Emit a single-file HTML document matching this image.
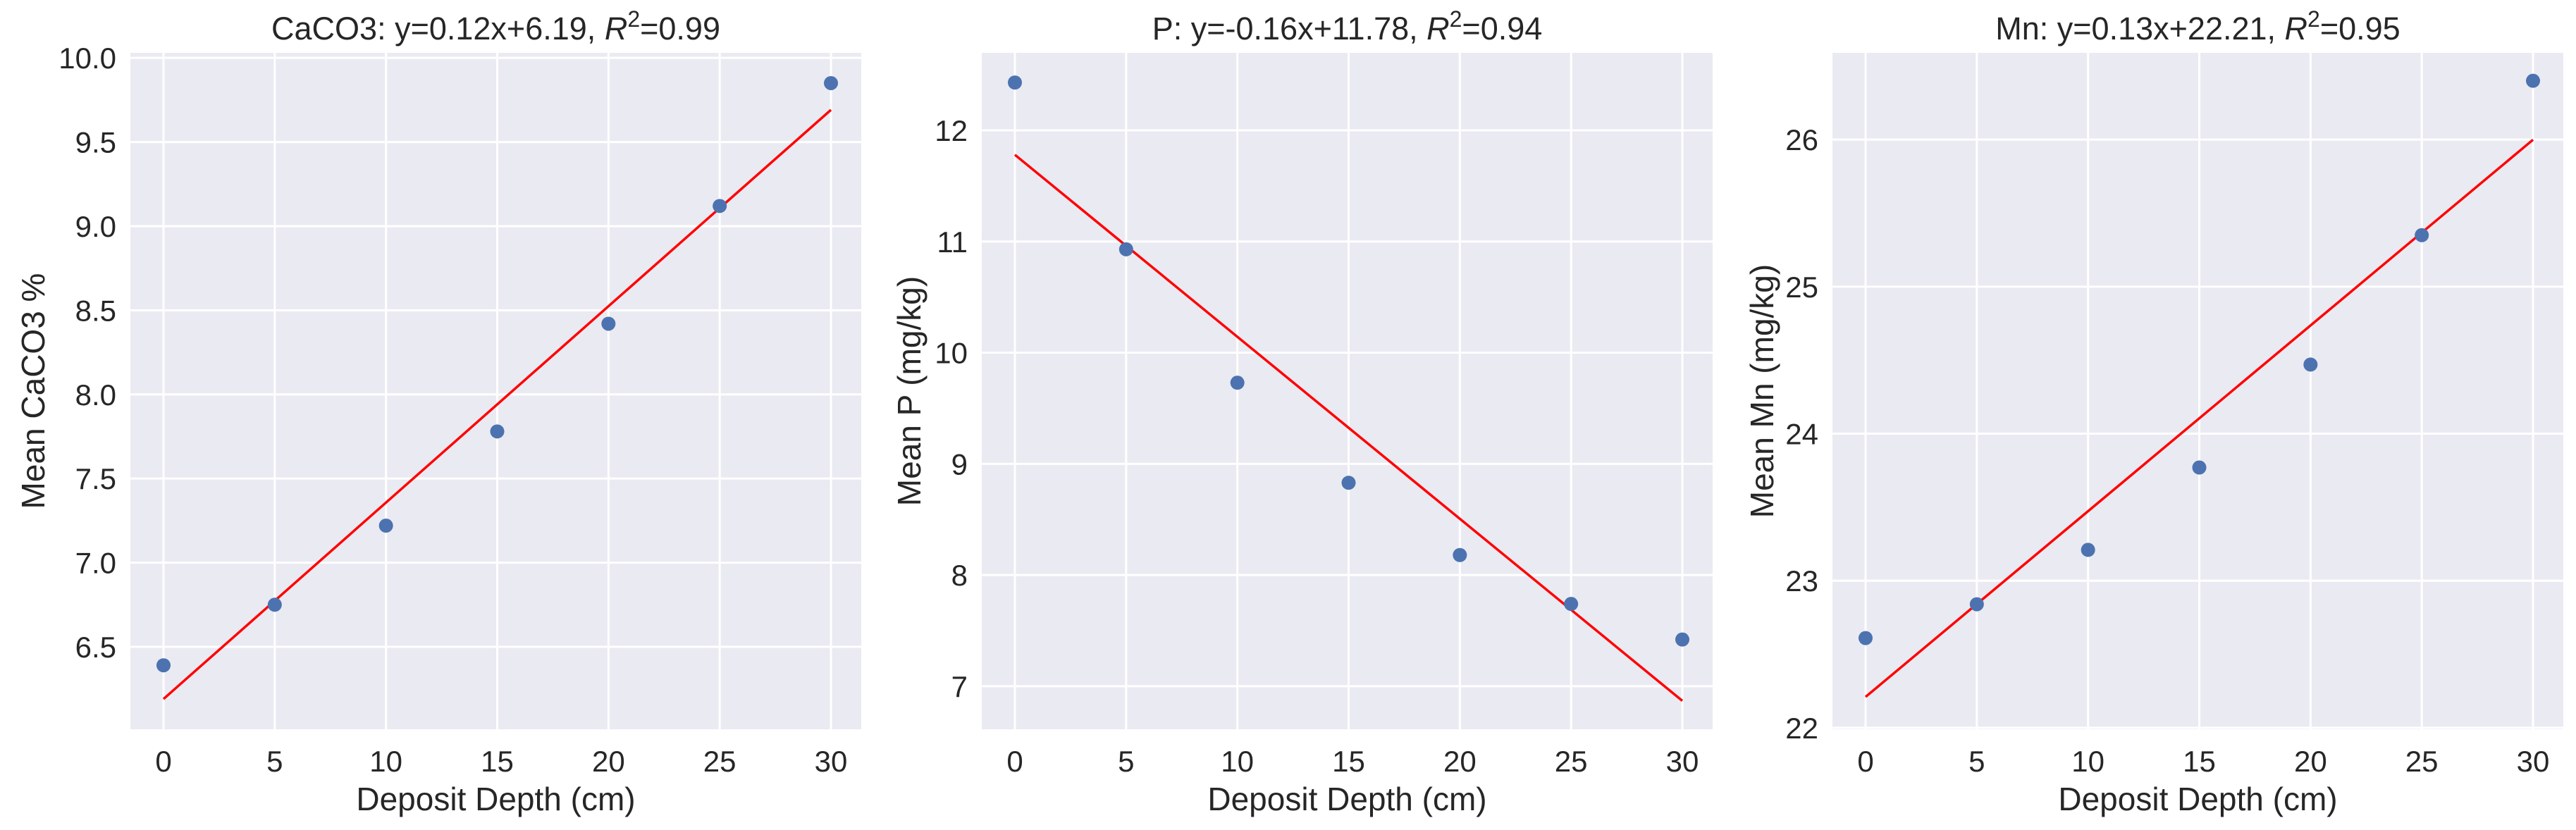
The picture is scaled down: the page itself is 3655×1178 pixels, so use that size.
<!DOCTYPE html>
<html><head><meta charset="utf-8"><style>
html,body{margin:0;padding:0;background:#fff;}
svg{display:block;font-family:"Liberation Sans",Arial,sans-serif;}
</style></head><body>
<svg id="fig" width="3655" height="1178" viewBox="0 0 3655 1178"></svg>
<script>
const depths = [0, 5, 10, 15, 20, 25, 30];
const xTicks = [0, 5, 10, 15, 20, 25, 30];
const caco3Values = [6.39, 6.75, 7.22, 7.78, 8.42, 9.12, 9.85];
const caco3Fit = [6.19, 0.1167];
const caco3Ticks = [6.5, 7.0, 7.5, 8.0, 8.5, 9.0, 9.5, 10.0];
const pValues = [12.43, 10.93, 9.73, 8.83, 8.18, 7.74, 7.42];
const pFit = [11.78, -0.1637];
const pTicks = [7, 8, 9, 10, 11, 12];
const mnValues = [22.61, 22.84, 23.21, 23.77, 24.47, 25.35, 26.40];
const mnFit = [22.21, 0.1263];
const mnTicks = [22, 23, 24, 25, 26];

const NS = "http://www.w3.org/2000/svg";
const svg = document.getElementById('fig');
function mk(tag, attrs, parent){const e=document.createElementNS(NS,tag);for(const k in attrs)e.setAttribute(k,attrs[k]);(parent||svg).appendChild(e);return e;}

const plotTop=75, plotBottom=1035, W=1037;
const panels = [
 {left:185, key:'caco3', vals:caco3Values, fit:caco3Fit, ticks:caco3Ticks, dec:1, yMin:6.01, yMax:10.03, ylabel:'Mean CaCO3 %', ylx:47,
  title:['CaCO3: y=0.12x+6.19, ','0.99']},
 {left:1393, key:'p', vals:pValues, fit:pFit, ticks:pTicks, dec:0, yMin:6.613, yMax:12.697, ylabel:'Mean P (mg/kg)', ylx:1290,
  title:['P: y=-0.16x+11.78, ','0.94']},
 {left:2600, key:'mn', vals:mnValues, fit:mnFit, ticks:mnTicks, dec:0, yMin:21.99, yMax:26.59, ylabel:'Mean Mn (mg/kg)', ylx:2500,
  title:['Mn: y=0.13x+22.21, ','0.95']}
];

panels.forEach(p=>{
  const g = mk('g',{});
  
  
  const xs = v => p.left + 47 + v*(947/30);
  const ys = v => plotBottom - (v - p.yMin)/(p.yMax - p.yMin)*(plotBottom-plotTop);
  const bg = mk('rect',{x:p.left,y:plotTop,width:W,height:plotBottom-plotTop,fill:'#eaeaf2'},g);
  
  
  xTicks.forEach(t=>{
    const l = mk('line',{x1:xs(t),x2:xs(t),y1:plotTop,y2:plotBottom,stroke:'#fff','stroke-width':3},g);
    
    
    const tx = mk('text',{x:xs(t),y:1095,'font-size':42,fill:'#262626','text-anchor':'middle'},g);
    tx.textContent = t;
    
    
  });
  p.ticks.forEach(t=>{
    const l = mk('line',{x1:p.left,x2:p.left+W,y1:ys(t),y2:ys(t),stroke:'#fff','stroke-width':3},g);
    
    
    const tx = mk('text',{x:p.left-20,y:ys(t)+15,'font-size':42,fill:'#262626','text-anchor':'end'},g);
    tx.textContent = t.toFixed(p.dec);
    
    
  });
  const fl = mk('line',{x1:xs(0),y1:ys(p.fit[0]),x2:xs(30),y2:ys(p.fit[0]+p.fit[1]*30),stroke:'#ff0000','stroke-width':3.5},g);
  
  
  p.vals.forEach((v,i)=>{
    const c = mk('circle',{cx:xs(depths[i]),cy:ys(v),r:10,fill:'#4c72b0'},g);
    
    
  });
  const xt = mk('text',{x:p.left+W/2,y:1150,'font-size':46,fill:'#262626','text-anchor':'middle'},g);
  xt.textContent = 'Deposit Depth (cm)';
  
  
  const yt = mk('text',{x:0,y:0,'font-size':46,fill:'#262626','text-anchor':'middle',transform:`translate(${p.ylx+16},${(plotTop+plotBottom)/2}) rotate(-90)`},g);
  yt.textContent = p.ylabel;
  
  
  const tt = mk('text',{x:p.left+W/2,y:56,'font-size':45,fill:'#262626','text-anchor':'middle'},g);
  
  
  const s1 = mk('tspan',{},tt); s1.textContent = p.title[0];
  const s2 = mk('tspan',{'font-style':'italic'},tt); s2.textContent = 'R';
  const s3 = mk('tspan',{dy:-18,'font-size':32},tt); s3.textContent = '2';
  const s4 = mk('tspan',{dy:18},tt); s4.textContent = '=' + p.title[1];
});
</script>
</body></html>
